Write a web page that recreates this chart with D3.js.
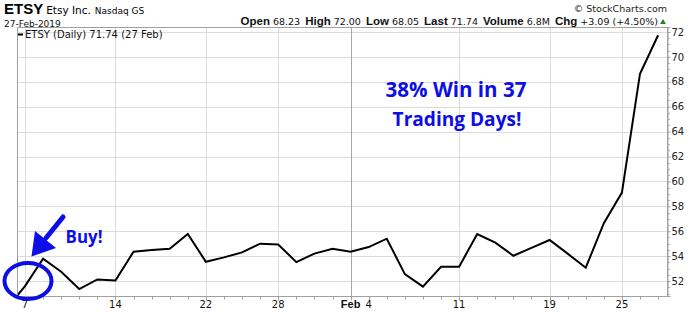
<!DOCTYPE html>
<html><head><meta charset="utf-8">
<script src="https://cdn.jsdelivr.net/npm/d3@7"></script>
<style>
html,body{margin:0;padding:0;background:#fff;}
svg{display:block;}
</style></head>
<body>
<svg id="c" width="700" height="312"></svg>
<script>
// ---- data ----
const days = ["2019-01-04","2019-01-07","2019-01-08","2019-01-09","2019-01-10","2019-01-11",
  "2019-01-14","2019-01-15","2019-01-16","2019-01-17","2019-01-18",
  "2019-01-22","2019-01-23","2019-01-24","2019-01-25",
  "2019-01-28","2019-01-29","2019-01-30","2019-01-31","2019-02-01",
  "2019-02-04","2019-02-05","2019-02-06","2019-02-07","2019-02-08",
  "2019-02-11","2019-02-12","2019-02-13","2019-02-14","2019-02-15",
  "2019-02-19","2019-02-20","2019-02-21","2019-02-22",
  "2019-02-25","2019-02-26","2019-02-27"];
const closes = [49.8, 51.6, 53.8, 52.75, 51.36, 52.13,
  52.05, 54.35, 54.5, 54.6, 55.78,
  53.55, 53.9, 54.3, 55.0,
  54.94, 53.52, 54.2, 54.6, 54.35,
  54.73, 55.4, 52.56, 51.55, 53.15,
  53.15, 55.78, 55.08, 54.03, 54.67,
  55.3, 54.2, 53.07, 56.65,
  59.1, 68.65, 71.74];
const xTickDays = ["2019-01-07","2019-01-14","2019-01-22","2019-01-28","2019-02-01","2019-02-04","2019-02-11","2019-02-19","2019-02-25"];
const xTickLabels = ["7","14","22","28","Feb","4","11","19","25"];
const xGridDays = ["2019-01-07","2019-01-14","2019-01-22","2019-01-28","2019-02-01","2019-02-11","2019-02-19","2019-02-25"];
const yTicks = [52,54,56,58,60,62,64,66,68,70,72];
const headerStats = [["Open","68.23"],["High","72.00"],["Low","68.05"],["Last","71.74"],["Volume","6.8M"],["Chg","+3.09 (+4.50%)"]];

// ---- layout ----
const L = 17, R = 668, T = 27, B = 296;
const svg = d3.select("#c");
const idx = days.map((d,i)=>i);
const x = d3.scaleLinear().domain([0, days.length-1]).range([6.9, 658.1]);
const xd = d => x(days.indexOf(d));
const y = d3.scaleLinear().domain([50.8, 72.4]).range([B, T]);

const sans = "'Liberation Sans', Arial, sans-serif";
const verd = "'DejaVu Sans', Verdana, sans-serif";

// gridlines
const g = svg.append("g");
g.selectAll(".hg").data(yTicks).enter().append("line")
  .attr("x1", L).attr("x2", R).attr("y1", d=>Math.round(y(d))+0.5).attr("y2", d=>Math.round(y(d))+0.5)
  .attr("stroke", "#dcdcdc").attr("stroke-width", 1);
g.selectAll(".vg").data(xGridDays).enter().append("line")
  .attr("x1", d=>Math.round(xd(d))+0.5).attr("x2", d=>Math.round(xd(d))+0.5)
  .attr("y1", T).attr("y2", B)
  .attr("stroke", d=> d==="2019-02-01" ? "#a8a8a8" : "#dcdcdc").attr("stroke-width", 1);

// plot frame
svg.append("rect").attr("x", L+0.5).attr("y", T+0.5).attr("width", R-L-1).attr("height", B-T)
  .attr("fill","none").attr("stroke","#a0a0a0");

// y axis (right)
const yAxis = d3.axisRight(y).tickValues(yTicks).tickSize(3).tickPadding(1).tickFormat(d3.format("d"));
const ya = svg.append("g").attr("transform", `translate(${R-0.5},0)`).call(yAxis);
ya.select(".domain").attr("stroke","#a0a0a0");
ya.selectAll(".tick line").attr("stroke","#a0a0a0");
ya.selectAll("text").attr("font-family", verd).attr("font-size", 10).attr("fill","#222");
const minor = d3.range(51, 72.01, 0.5).filter(v => !yTicks.includes(v));
svg.append("g").selectAll("line").data(minor).enter().append("line")
  .attr("x1", R).attr("x2", R+2).attr("y1", d=>Math.round(y(d))+0.5).attr("y2", d=>Math.round(y(d))+0.5)
  .attr("stroke","#b0b0b0");

// x axis (bottom)
const xa = svg.append("g").attr("transform", `translate(0,${B+0.5})`);
xa.selectAll(".mt").data(idx.slice(1)).enter().append("line")
  .attr("x1", d=>Math.round(x(d))+0.5).attr("x2", d=>Math.round(x(d))+0.5)
  .attr("y1", 0).attr("y2", 3).attr("stroke","#a0a0a0");
xa.selectAll(".Mt").data(xTickDays).enter().append("line")
  .attr("x1", d=>Math.round(xd(d))+0.5).attr("x2", d=>Math.round(xd(d))+0.5)
  .attr("y1", 0).attr("y2", 4).attr("stroke","#a0a0a0");
xa.selectAll("text").data(xTickDays).enter().append("text")
  .attr("x", d=>xd(d)).attr("y", 11)
  .attr("text-anchor","middle")
  .attr("font-family", (d,i)=> xTickLabels[i]==="Feb" ? sans : verd)
  .attr("font-weight", (d,i)=> xTickLabels[i]==="Feb" ? "bold" : "normal")
  .attr("font-size", (d,i)=> xTickLabels[i]==="Feb" ? 11 : 10)
  .attr("fill","#111")
  .text((d,i)=>xTickLabels[i]);

// price line
svg.append("clipPath").attr("id","clip").append("rect")
  .attr("x", L+1).attr("y", T).attr("width", R-L-1).attr("height", B-T);
const line = d3.line().x((d,i)=>x(i)).y(d=>y(d));
svg.append("path").datum(closes).attr("d", line)
  .attr("clip-path","url(#clip)")
  .attr("fill","none").attr("stroke","#000").attr("stroke-width",2).attr("stroke-linejoin","miter");

// legend
svg.append("line").attr("x1", 18).attr("x2", 23).attr("y1", 34.5).attr("y2", 34.5).attr("stroke","#000").attr("stroke-width",2);
svg.append("text").attr("x", 25).attr("y", 38).attr("font-family", verd).attr("font-size", 10).attr("fill","#111")
  .text("ETSY (Daily) 71.74 (27 Feb)");

// header
const h1 = svg.append("text").attr("x", 4).attr("y", 14);
h1.append("tspan").attr("font-family", sans).attr("font-weight","bold").attr("font-size",15).text("ETSY");
h1.append("tspan").attr("font-family", verd).attr("font-size",10.5).attr("dx",3).text("Etsy Inc.");
h1.append("tspan").attr("font-family", verd).attr("font-size",9).attr("dx",4).text("Nasdaq GS");
svg.append("text").attr("x", 4).attr("y", 26.5).attr("font-family", verd).attr("font-size",9).attr("fill","#111").text("27-Feb-2019");
svg.append("text").attr("x", 667).attr("y", 12).attr("text-anchor","end").attr("font-family", verd).attr("font-size",9.5).attr("fill","#222").text("© StockCharts.com");
const hs = svg.append("text").attr("x", 658).attr("y", 25).attr("text-anchor","end").attr("fill","#111");
headerStats.forEach((s,i)=>{
  hs.append("tspan").attr("font-family", sans).attr("font-weight","bold").attr("font-size",11.5).attr("dx", i===0?0:5).text(s[0]);
  hs.append("tspan").attr("font-family", verd).attr("font-size",9.5).attr("dx",3).text(s[1]);
});
svg.append("path").attr("d","M660,24 L666,24 L663,19 Z").attr("fill","#2e7d32");

// annotations
const blue = "#0d0de8";
const ann = svg.append("g").attr("fill", blue).attr("font-family","'Open Sans', 'DejaVu Sans', sans-serif").attr("font-weight","bold").attr("text-anchor","middle");
const t1 = ann.append("text").attr("x", 456).attr("y", 97).attr("font-size", 19).text("38% Win in 37");
const t2 = ann.append("text").attr("x", 457).attr("y", 126).attr("font-size", 19).text("Trading Days!");
const t3 = ann.append("text").attr("x", 84).attr("y", 243).attr("font-size", 18).text("Buy!");
function fit(t, w){ const cw = t.node().getComputedTextLength(); const fs = +t.attr("font-size"); t.attr("font-size", fs*w/cw); }
fit(t1, 141); fit(t2, 129); fit(t3, 37);

// arrow
svg.append("line").attr("x1", 63).attr("y1", 217).attr("x2", 46).attr("y2", 238)
  .attr("stroke", blue).attr("stroke-width", 5).attr("stroke-linecap","round");
svg.append("path").attr("d","M31.5,256.5 L35,231 L56,248 Z").attr("fill", blue);
// circle
svg.append("ellipse").attr("cx", 28).attr("cy", 281).attr("rx", 23.5).attr("ry", 18)
  .attr("fill","none").attr("stroke", blue).attr("stroke-width", 4);
</script>
</body></html>
